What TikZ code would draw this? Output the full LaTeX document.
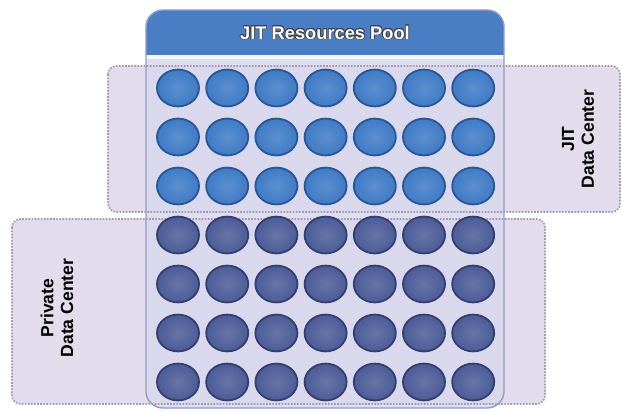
\documentclass[tikz,border=0pt]{standalone}
\usepackage{fontspec}
\setmainfont{Liberation Sans}
\usepackage{contour}
\contourlength{0.5pt}
\usetikzlibrary{
  positioning,
  calc,
  shapes.geometric
}
\definecolor{poolblue}{HTML}{4A7EC4}
\definecolor{poolbody}{HTML}{D9D8EE}
\definecolor{poolline}{HTML}{8F9CC8}
\definecolor{dcfill}{HTML}{E2DCEC}
\definecolor{dcline}{HTML}{A29CAE}
\definecolor{jitvm}{HTML}{3F7BC6}
\definecolor{jitvmline}{HTML}{2A5793}
\definecolor{privvm}{HTML}{4C5C98}
\definecolor{privvmline}{HTML}{333F6E}

\tikzset{
  dcbox/.style={fill=dcfill, draw=dcline, densely dotted, line width=1.2pt, rounded corners=6pt},
  dclabel/.style={rotate=90, align=center, font=\bfseries\fontsize{12.5}{14}\selectfont, text=black},
  vm/.style={ellipse, minimum width=1.05cm, minimum height=0.92cm, inner sep=0pt, line width=1.3pt},
  jitvmstyle/.style={vm, draw=jitvmline, shading=radial, inner color=jitvm!85!white, outer color=jitvm},
  privvmstyle/.style={vm, draw=privvmline, shading=radial, inner color=privvm!85!white, outer color=privvm}
}

\begin{document}
\begin{tikzpicture}[x=0.025cm, y=-0.025cm]
    \useasboundingbox (0,0) rectangle (622,412);

    % Data centers (fills)
    \path[dcbox, draw=none] (108,66) rectangle (620,212);
    \path[dcbox, draw=none] (12,219) rectangle (545,404);

    % Pool body
    \fill[poolbody, fill opacity=0.85, rounded corners=12pt] (146,10) rectangle (504,408);

    % Data center outlines
    \draw[dcbox, fill=none] (108,66) rectangle (620,212);
    \draw[dcbox, fill=none] (12,219) rectangle (545,404);

    % Pool header and outline
    \begin{scope}
        \clip[rounded corners=12pt] (146,10) rectangle (504,408);
        \fill[poolblue] (146,10) rectangle (504,55);
        \fill[white!85!poolbody] (146,55) rectangle (504,59);
    \end{scope}
    \draw[poolline, line width=1pt, rounded corners=12pt] (146,10) rectangle (504,408);
    \node[text=white, font=\bfseries\fontsize{13}{14}\selectfont] (pooltitle) at (325,33) {\contour{black!75}{JIT Resources Pool}};

    % Labels
    \node[dclabel] (jitlabel) at (578,139) {JIT\\Data Center};
    \node[dclabel] (privlabel) at (57,308) {Private\\Data Center};

    % Resources
    \foreach \r in {1,...,7} {
        \foreach \c in {1,...,7} {
            \ifnum\r<4
                \node[jitvmstyle] (vm-\r-\c) at ({178+49.2*(\c-1)}, {88+49*(\r-1)}) {};
            \else
                \node[privvmstyle] (vm-\r-\c) at ({178+49.2*(\c-1)}, {88+49*(\r-1)}) {};
            \fi
        }
    }
\end{tikzpicture}
\end{document}
